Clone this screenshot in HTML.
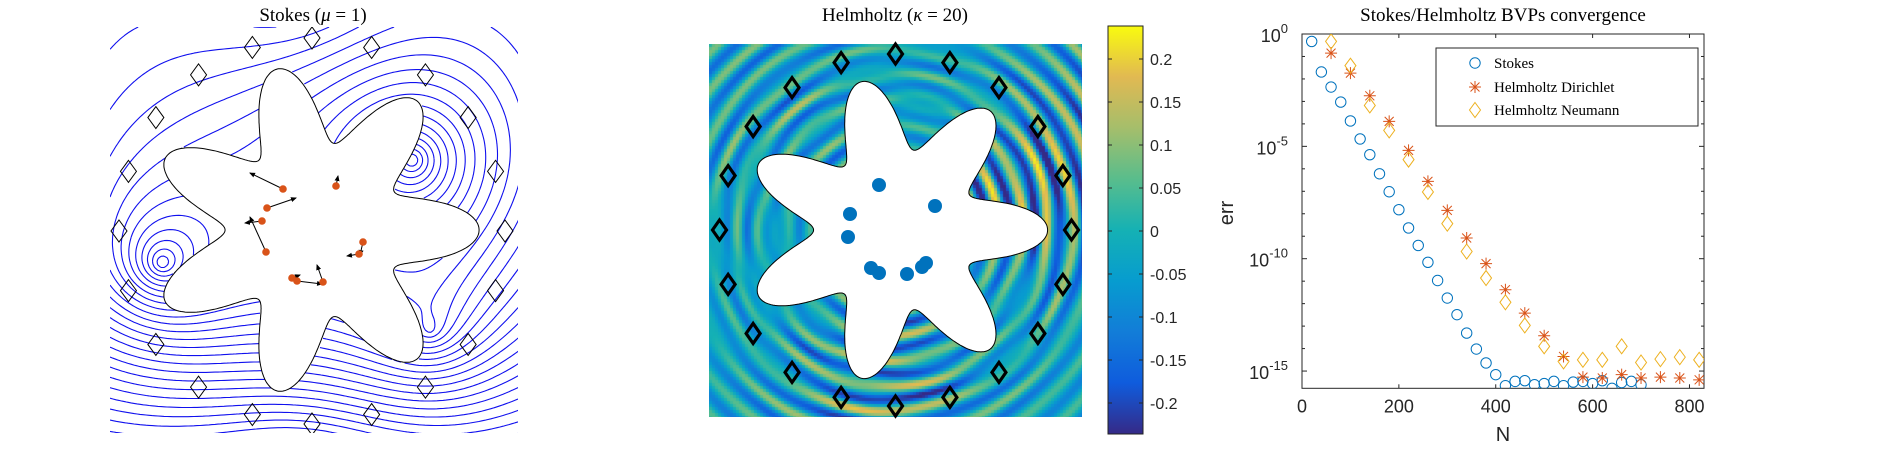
<!DOCTYPE html>
<html><head><meta charset="utf-8"><style>
html,body{margin:0;padding:0;background:#fff;width:1883px;height:452px;overflow:hidden;position:relative}
#hm{position:absolute;left:709px;top:44px}
svg{position:absolute;left:0;top:0}
</style></head><body>
<canvas id="hm" width="373" height="373"></canvas>
<svg id="s" width="1883" height="452" xmlns="http://www.w3.org/2000/svg" font-family="Liberation Sans, sans-serif">
<defs><clipPath id="c1"><rect x="110" y="27" width="408" height="406"/></clipPath>
<clipPath id="c3"><rect x="1302" y="34" width="402" height="354.3"/></clipPath>
<linearGradient id="parula" x1="0" y1="1" x2="0" y2="0">
<stop offset="0" stop-color="rgb(53,42,135)"/><stop offset="0.125" stop-color="rgb(15,92,221)"/><stop offset="0.25" stop-color="rgb(18,125,216)"/><stop offset="0.375" stop-color="rgb(7,156,207)"/><stop offset="0.5" stop-color="rgb(21,177,180)"/><stop offset="0.625" stop-color="rgb(89,189,140)"/><stop offset="0.75" stop-color="rgb(165,190,107)"/><stop offset="0.875" stop-color="rgb(225,185,82)"/><stop offset="1" stop-color="rgb(249,251,14)"/></linearGradient>
<marker id="ah" markerWidth="6" markerHeight="6" refX="5" refY="3" orient="auto"><path d="M0,0.5 L6,3 L0,5.5z" fill="#000"/></marker>
</defs>
<text x="313" y="21" text-anchor="middle" font-family="Liberation Serif, serif" font-size="19">Stokes (<tspan font-style="italic">μ</tspan> = 1)</text>
<text x="895" y="21" text-anchor="middle" font-family="Liberation Serif, serif" font-size="19">Helmholtz (<tspan font-style="italic">κ</tspan> = 20)</text>
<text x="1503" y="21" text-anchor="middle" font-family="Liberation Serif, serif" font-size="19">Stokes/Helmholtz BVPs convergence</text>
<g id="p1" clip-path="url(#c1)"></g>
<g id="p2"></g>
<rect x="1108" y="26" width="35" height="408" fill="url(#parula)" stroke="#222" stroke-width="1"/>
<g id="cb"></g>
<g id="p3"></g>
</svg>
<script>
// ---- convergence data (log10 err) ----
const stokesN=[20,40,60,80,100,120,140,160,180,200,220,240,260,280,300,320,340,360,380,400,420,440,460,480,500,520,540,560,580,600,620,640,660,680,700];
const stokesErr=[-0.33,-1.69,-2.36,-3.03,-3.87,-4.67,-5.37,-6.22,-7.02,-7.82,-8.63,-9.41,-10.16,-10.97,-11.75,-12.49,-13.31,-14.02,-14.64,-15.16,-15.65,-15.46,-15.43,-15.61,-15.56,-15.46,-15.65,-15.49,-15.46,-15.56,-15.43,-15.77,-15.51,-15.46,-15.61];
const helmN=[60,100,140,180,220,260,300,340,380,420,460,500,540,580,620,660,700,740,780,820];
const dirichletErr=[-0.85,-1.74,-2.75,-3.89,-5.18,-6.56,-7.85,-9.08,-10.22,-11.38,-12.42,-13.43,-14.35,-15.27,-15.31,-15.16,-15.31,-15.27,-15.31,-15.39];
const neumannErr=[-0.33,-1.41,-3.18,-4.29,-5.59,-7.03,-8.44,-9.68,-10.86,-11.94,-12.97,-13.90,-14.57,-14.50,-14.50,-13.90,-14.62,-14.47,-14.38,-14.50];
const xTicks=[0,200,400,600,800];
const yTicks=[0,-5,-10,-15];
const cbTicks=[0.2,0.15,0.1,0.05,0,-0.05,-0.1,-0.15,-0.2];
const NS='http://www.w3.org/2000/svg';
function mk(tag,attrs,parent){const e=document.createElementNS(NS,tag);for(const k in attrs)e.setAttribute(k,attrs[k]);parent.appendChild(e);return e;}
const X0=1302,X1=1704,Y0=34,Y1=388.3;
const sx=n=>X0+(n/830)*(X1-X0);
const sy=l=>Y0+(-l)*22.47;
const p3=document.getElementById('p3');
let ax=mk('rect',{x:X0,y:Y0,width:X1-X0,height:Y1-Y0,fill:'none',stroke:'#262626','stroke-width':1},p3);


xTicks.forEach(t=>{const x=sx(t);
 mk('line',{x1:x,y1:Y1,x2:x,y2:Y1-4,stroke:'#262626'},p3);mk('line',{x1:x,y1:Y0,x2:x,y2:Y0+4,stroke:'#262626'},p3);
 const tx=mk('text',{x:x,y:Y1+24,'text-anchor':'middle','font-size':18,fill:'#262626'},p3);tx.textContent=t;
 
 });
for(let d=0;d>=-15;d--){const y=sy(d);const len=(d%5===0)?5:3;
 mk('line',{x1:X0,y1:y,x2:X0+len,y2:y,stroke:'#262626'},p3);mk('line',{x1:X1,y1:y,x2:X1-len,y2:y,stroke:'#262626'},p3);}
yTicks.forEach(t=>{const y=sy(t);
 const tx=mk('text',{x:X0-14,y:y+8,'text-anchor':'end','font-size':18,fill:'#262626'},p3);
 tx.innerHTML='10<tspan dy="-9" font-size="13">'+t+'</tspan>';
 
 });
let xl=mk('text',{x:1503,y:441,'text-anchor':'middle','font-size':20,fill:'#262626'},p3);xl.textContent='N';


let yl=mk('text',{x:1233,y:213,'text-anchor':'middle','font-size':20,fill:'#262626',transform:'rotate(-90 1233 213)'},p3);yl.textContent='err';


const C1='#0072bd',C2='#d95319',C3='#edb120';
const g3=mk('g',{'clip-path':'url(#c3)'},p3);
function circ(x,y,g){return mk('circle',{cx:x,cy:y,r:5.2,fill:'none',stroke:C1,'stroke-width':1},g);}
function star(x,y,g){return mk('path',{d:`M${x-6},${y}H${x+6}M${x},${y-6}V${y+6}M${x-4.5},${y-4.5}L${x+4.5},${y+4.5}M${x-4.5},${y+4.5}L${x+4.5},${y-4.5}`,stroke:C2,'stroke-width':1,fill:'none'},g);}
function diam(x,y,g,c,w,h,sw){return mk('path',{d:`M${x},${y-h}L${x+w},${y}L${x},${y+h}L${x-w},${y}Z`,stroke:c,'stroke-width':sw,fill:'none'},g);}
stokesN.forEach((n,i)=>{const e=circ(sx(n),sy(stokesErr[i]),g3);
 
 });
helmN.forEach((n,i)=>{const e=star(sx(n),sy(dirichletErr[i]),g3);
 
 });
helmN.forEach((n,i)=>{const e=diam(sx(n),sy(neumannErr[i]),g3,C3,5.5,7.5,1);
 
 });
const lg=mk('g',{},p3);


mk('rect',{x:1436,y:48,width:262,height:78,fill:'#fff',stroke:'#262626'},lg);
circ(1475,63,lg);star(1475,87,lg);diam(1475,110,lg,C3,5.5,7.5,1);
[['Stokes',63],['Helmholtz Dirichlet',87],['Helmholtz Neumann',110]].forEach(([t,y])=>{
 const e=mk('text',{x:1494,y:y+5,'font-size':15,'font-family':'Liberation Serif, serif',fill:'#000'},lg);e.textContent=t;
 
 });
const cb=document.getElementById('cb');
cbTicks.forEach(v=>{const y=231-v*860;
 mk('line',{x1:1143,y1:y,x2:1139,y2:y,stroke:'#262626'},cb);mk('line',{x1:1108,y1:y,x2:1112,y2:y,stroke:'#262626'},cb);
 const t=mk('text',{x:1150,y:y+6,'font-size':16,fill:'#262626'},cb);t.textContent=v;
 
 });
function starPath(cx,cy,R0,a){let d='';for(let i=0;i<=720;i++){const t=i/720*2*Math.PI;const r=R0*(1+a*Math.cos(7*t));d+=(i?'L':'M')+(cx+r*Math.cos(t)).toFixed(1)+','+(cy+r*Math.sin(t)).toFixed(1);}return d+'Z';}
function inStar(x,y,cx,cy,R0,a){const dx=x-cx,dy=y-cy;const t=Math.atan2(dy,dx);return Math.hypot(dx,dy)<R0*(1+a*Math.cos(7*t));}
const cmap=[[53,42,135],[15,92,221],[18,125,216],[7,156,207],[21,177,180],[89,189,140],[165,190,107],[225,185,82],[249,251,14]];
function col(v){let f=(v+0.2356)/(0.2388+0.2356);f=Math.max(0,Math.min(1,f))*8;const i=Math.min(7,Math.floor(f)),u=f-i;const a=cmap[i],b=cmap[i+1];return `rgb(${a.map((c,k)=>Math.round(c+(b[k]-c)*u)).join(',')})`;}
const ctx=document.getElementById('hm').getContext('2d');
const hc=[895.5-709,230-44];
for(let y=0;y<373;y+=3)for(let x=0;x<373;x+=3){const dx=x+1.5-hc[0],dy=y+1.5-hc[1];const r=Math.hypot(dx,dy),t=Math.atan2(dy,dx);
 const amp=0.13*(1+0.35*Math.cos(t-0.3))*(1+0.5*Math.cos(3*t+1));
 let v=amp*Math.sin(2*Math.PI*r/25+0.9*Math.cos(t)+0.5*Math.sin(2*t))+0.07*Math.cos(7*t)*Math.sin(2*Math.PI*r/18)*Math.exp(-(r-150)*(r-150)/4000);
 v=v*0.9-0.03;ctx.fillStyle=col(v);ctx.fillRect(x,y,3,3);}
const p2=document.getElementById('p2');
let st2=mk('path',{d:starPath(895.5,230,117,0.3),fill:'#fff',stroke:'#000','stroke-width':1},p2);


for(let i=0;i<20;i++){const t=-Math.PI/2+i*2*Math.PI/20;const e=diam(895.5+176*Math.cos(t),230+176*Math.sin(t),p2,'#000',7,10,3.2);
 
 }
[[879,185],[850,214],[848,237],[935,206],[871,268],[879,273],[907,274],[922,267],[926,263]].forEach(p=>{const e=mk('circle',{cx:p[0],cy:p[1],r:7,fill:'#0072bd'},p2);
 
 });
// ---- panel 1 streamlines ----
const p1=document.getElementById('p1');
const vs=[[162,263,1.0],[412,160,1.0],[430,330,0.6],[300,-40,-0.6],[300,500,-0.6]];
function psi(x,y){let s=0.004*(y-230);vs.forEach(v=>{s+=v[2]*Math.log(Math.hypot(x-v[0],y-v[1])+35);});return s;}
const G=3,gx0=110,gy0=27,nx=137,ny=136;const F=[];let mn=1e9,mx=-1e9;
for(let j=0;j<=ny;j++){F[j]=[];for(let i=0;i<=nx;i++){const v=psi(gx0+i*G,gy0+j*G);F[j][i]=v;if(!inStar(gx0+i*G,gy0+j*G,314,230,127,0.3)){mn=Math.min(mn,v);mx=Math.max(mx,v);}}}
let d='';const L=30;
for(let l=1;l<L;l++){const lv=mn+(mx-mn)*l/L;
 for(let j=0;j<ny;j++)for(let i=0;i<nx;i++){const x=gx0+i*G,y=gy0+j*G;if(inStar(x+1.5,y+1.5,314,230,127,0.3))continue;
  const a=F[j][i],b=F[j][i+1],c=F[j+1][i+1],e=F[j+1][i];const pts=[];
  const ed=(p,q,x1,y1,x2,y2)=>{if((p<lv)!==(q<lv)){const u=(lv-p)/(q-p);pts.push([x1+(x2-x1)*u,y1+(y2-y1)*u]);}};
  ed(a,b,x,y,x+G,y);ed(b,c,x+G,y,x+G,y+G);ed(c,e,x+G,y+G,x,y+G);ed(e,a,x,y+G,x,y);
  if(pts.length>=2)d+=`M${pts[0][0].toFixed(1)},${pts[0][1].toFixed(1)}L${pts[1][0].toFixed(1)},${pts[1][1].toFixed(1)}`;
  if(pts.length===4)d+=`M${pts[2][0].toFixed(1)},${pts[2][1].toFixed(1)}L${pts[3][0].toFixed(1)},${pts[3][1].toFixed(1)}`;}}
let sl=mk('path',{d:d,stroke:'#1010ee','stroke-width':1.1,fill:'none'},p1);


let st1=mk('path',{d:starPath(314,230,127,0.3),fill:'#fff',stroke:'#000','stroke-width':1},p1);


for(let i=0;i<20;i++){const t=-Math.PI/2+i*2*Math.PI/20;const e=diam(312+193*Math.cos(t),231+193*Math.sin(t),p1,'#000',8,11,1);
 
 }
[[283,189,250,173],[267,208,296,198],[262,221,245,223],[266,252,250,217],[363,242,360,255],[359,254,347,256],[323,282,317,265],[297,281,322,284],[292,278,300,275],[336,186,338,176]].forEach(a=>{
 const e=mk('line',{x1:a[0],y1:a[1],x2:a[2],y2:a[3],stroke:'#000','stroke-width':1,'marker-end':'url(#ah)'},p1);
 
 });
[[283,189],[336,186],[267,208],[262,221],[266,252],[363,242],[359,254],[292,278],[297,281],[323,282]].forEach(p=>{const e=mk('circle',{cx:p[0],cy:p[1],r:3.8,fill:'#d95319'},p1);
 
 });
</script>
</body></html>
